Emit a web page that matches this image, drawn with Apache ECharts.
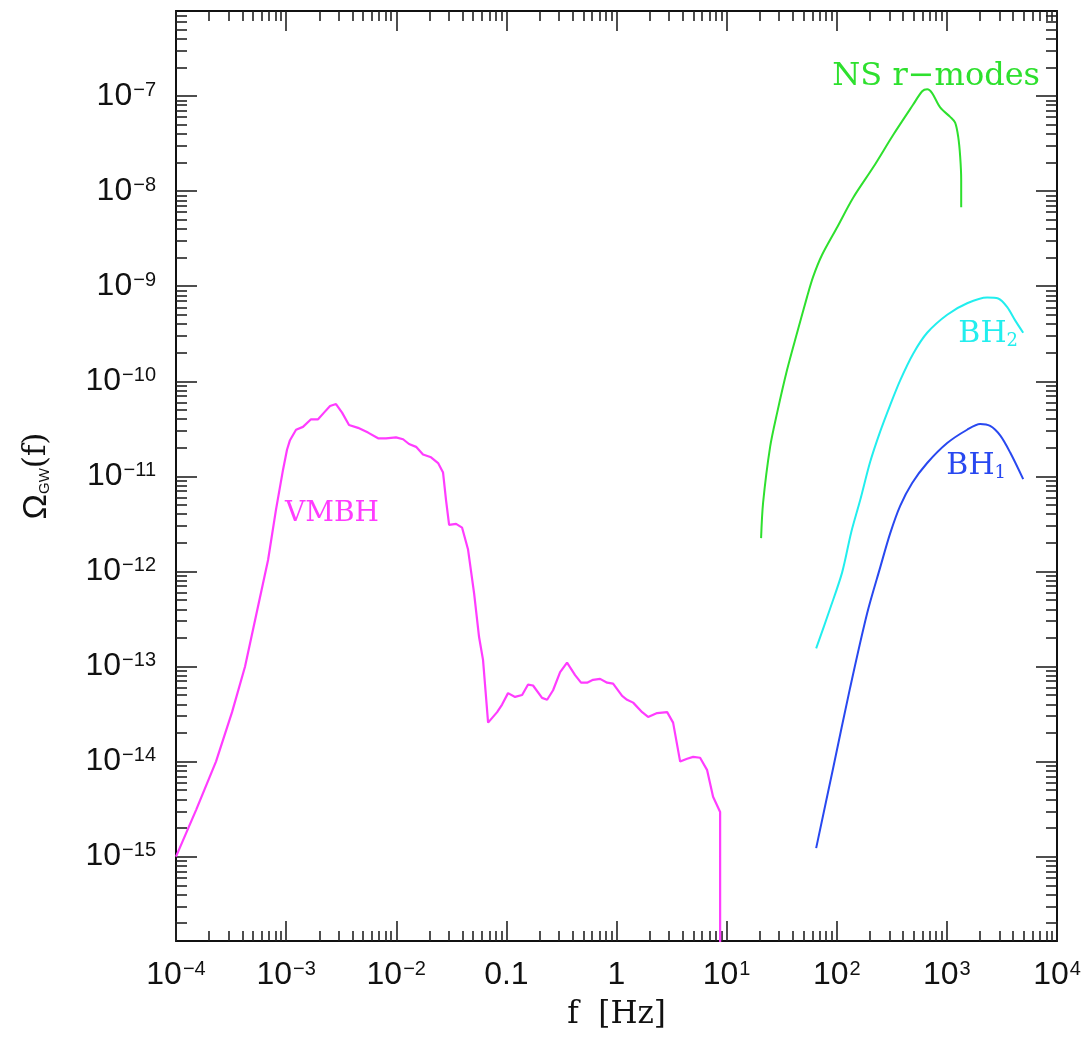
<!DOCTYPE html>
<html>
<head>
<meta charset="utf-8">
<script src="https://cdn.jsdelivr.net/npm/echarts@6/dist/echarts.min.js"></script>
<style>html,body{margin:0;padding:0;background:#fff}#c{width:1088px;height:1039px}</style>
</head>
<body>
<div id="c"></div>
<script>
// All values are log10 of the physical quantity: f in Hz, Omega_GW(f)
const vmbhLogF = [-4.000,-3.818,-3.637,-3.491,-3.373,-3.246,-3.164,-3.092,-3.028,-2.992,-2.965,-2.910,-2.847,-2.774,-2.710,-2.656,-2.601,-2.547,-2.492,-2.429,-2.347,-2.256,-2.165,-2.093,-2.002,-1.938,-1.884,-1.820,-1.757,-1.684,-1.620,-1.575,-1.548,-1.520,-1.457,-1.402,-1.348,-1.293,-1.248,-1.212,-1.166,-1.084,-1.039,-0.985,-0.921,-0.857,-0.803,-0.758,-0.676,-0.630,-0.576,-0.512,-0.449,-0.376,-0.322,-0.267,-0.213,-0.149,-0.085,-0.031,0.051,0.096,0.151,0.233,0.287,0.369,0.460,0.514,0.578,0.641,0.696,0.759,0.823,0.877,0.941,0.941];
const vmbhLogOmega = [-15.00,-14.51,-14.00,-13.48,-13.00,-12.32,-11.88,-11.35,-10.93,-10.72,-10.62,-10.51,-10.48,-10.40,-10.40,-10.33,-10.26,-10.24,-10.33,-10.46,-10.49,-10.54,-10.60,-10.60,-10.59,-10.61,-10.66,-10.69,-10.77,-10.80,-10.86,-10.96,-11.25,-11.51,-11.50,-11.54,-11.77,-12.23,-12.69,-12.93,-13.59,-13.48,-13.40,-13.28,-13.32,-13.30,-13.19,-13.20,-13.33,-13.35,-13.25,-13.06,-12.96,-13.09,-13.17,-13.17,-13.14,-13.13,-13.17,-13.18,-13.31,-13.35,-13.38,-13.48,-13.53,-13.49,-13.48,-13.59,-14.00,-13.97,-13.95,-13.96,-14.09,-14.37,-14.53,-17.00];

const nsLogF = [1.313,1.331,1.395,1.459,1.549,1.640,1.731,1.786,1.867,2.004,2.149,2.331,2.512,2.694,2.776,2.821,2.866,2.939,3.030,3.075,3.103,3.121,3.130,3.130];
const nsLogOmega = [-11.65,-11.28,-10.69,-10.33,-9.88,-9.49,-9.11,-8.90,-8.67,-8.38,-8.07,-7.75,-7.41,-7.09,-6.95,-6.93,-6.97,-7.12,-7.22,-7.28,-7.43,-7.64,-7.88,-8.17];

const bh2LogF = [1.813,1.940,2.049,2.131,2.213,2.303,2.394,2.485,2.576,2.694,2.821,3.003,3.184,3.366,3.466,3.548,3.620,3.693];
const bh2LogOmega = [-12.81,-12.39,-12.01,-11.59,-11.25,-10.85,-10.53,-10.25,-9.99,-9.71,-9.49,-9.30,-9.18,-9.12,-9.13,-9.22,-9.36,-9.49];

const bh1LogF = [1.813,1.967,2.122,2.276,2.394,2.485,2.576,2.685,2.821,3.003,3.184,3.302,3.393,3.484,3.575,3.693];
const bh1LogOmega = [-14.91,-14.07,-13.22,-12.44,-11.96,-11.60,-11.31,-11.07,-10.86,-10.65,-10.51,-10.45,-10.47,-10.57,-10.75,-11.03];

const xTickExponents = [-4,-3,-2,-1,0,1,2,3,4];
const xTickLabels = [['10','−4'],['10','−3'],['10','−2'],['0.1',''],['1',''],['10','1'],['10','2'],['10','3'],['10','4']];
const yTickExponents = [-15,-14,-13,-12,-11,-10,-9,-8,-7];
const yTickLabels = [['10','−15'],['10','−14'],['10','−13'],['10','−12'],['10','−11'],['10','−10'],['10','−9'],['10','−8'],['10','−7']];

const xMin = -4, xMax = 4;
const yMin = -15.887, yMax = -6.106;

function minorTicks(lo, hi) {
  const out = [];
  for (let n = Math.floor(lo) - 1; n <= Math.ceil(hi); n++) {
    for (let k = 2; k <= 9; k++) {
      const v = n + Math.log10(k);
      if (v > lo && v < hi) out.push(v);
    }
  }
  return out;
}
const xMinor = minorTicks(xMin, xMax);
const yMinor = minorTicks(yMin, yMax);

function zip(a, b) { return a.map((v, i) => [v, b[i]]); }

const tickRich = {
  b: {fontFamily: 'Liberation Sans', fontSize: 32, lineHeight: 32, color: '#111'},
  s: {fontFamily: 'Liberation Sans', fontSize: 20, lineHeight: 20, color: '#111', verticalAlign: 'top', padding: [0, 0, 0, 1]}
};
function fmt(exps, labels) {
  return function (v) {
    const i = exps.indexOf(Math.round(v));
    if (i < 0 || Math.abs(v - Math.round(v)) > 1e-6) return '';
    const l = labels[i];
    return l[1] ? '{b|' + l[0] + '}{s|' + l[1] + '}' : '{b|' + l[0] + '}';
  };
}

const lineAxis = {show: true, onZero: false, lineStyle: {color: '#111', width: 2}};
const noLine = {show: false, onZero: false};
function xAx(pos, major) {
  return {
    type: 'value', position: pos, min: xMin, max: xMax, gridIndex: 0,
    axisLine: major ? lineAxis : noLine,
    splitLine: {show: false},
    axisTick: {show: true, inside: true, length: major ? 20 : 10,
      customValues: major ? xTickExponents : xMinor,
      lineStyle: {color: '#222', width: 1.6}},
    axisLabel: (major && pos === 'bottom') ? {
      show: true, customValues: xTickExponents, margin: 18,
      formatter: fmt(xTickExponents, xTickLabels), rich: tickRich
    } : {show: false},
    name: (major && pos === 'bottom') ? 'f  [Hz]' : '',
    nameLocation: 'middle', nameGap: 58,
    nameTextStyle: {fontFamily: 'DejaVu Serif', fontSize: 31, color: '#111'}
  };
}
function yAx(pos, major) {
  return {
    type: 'value', position: pos, min: yMin, max: yMax, gridIndex: 0,
    axisLine: major ? lineAxis : noLine,
    splitLine: {show: false},
    axisTick: {show: true, inside: true, length: major ? 21 : 11,
      customValues: major ? yTickExponents : yMinor,
      lineStyle: {color: '#222', width: 1.6}},
    axisLabel: (major && pos === 'left') ? {
      show: true, customValues: yTickExponents, margin: 20,
      formatter: fmt(yTickExponents, yTickLabels), rich: tickRich
    } : {show: false},
    name: (major && pos === 'left') ? '{o|Ω}{g|GW}{f|(f)}' : '',
    nameLocation: 'middle', nameGap: 122,
    nameTextStyle: {
      color: '#111',
      rich: {
        o: {fontFamily: 'Liberation Sans', fontSize: 34, color: '#111'},
        g: {fontFamily: 'Liberation Sans', fontSize: 15, color: '#111', padding: [16, 0, 0, 0]},
        f: {fontFamily: 'DejaVu Serif', fontSize: 31, color: '#111'}
      }
    }
  };
}

function annot(x, y, text, color, size, rich) {
  return {
    symbol: 'circle', symbolSize: 0, silent: true, animation: false,
    label: {show: true, position: 'inside', formatter: text, color: color,
      fontFamily: 'DejaVu Serif', fontSize: size, rich: rich},
    data: [{coord: [x, y], value: 0}]
  };
}

function sub(color) {
  return {
    m: {fontFamily: 'DejaVu Serif', fontSize: 30, color: color},
    n: {fontFamily: 'DejaVu Serif', fontSize: 18, color: color, padding: [14, 0, 0, 0]}
  };
}

const colVMBH = '#ff3cff', colNS = '#2ee02e', colBH2 = '#22eeee', colBH1 = '#2848f0';

const option = {
  animation: false,
  backgroundColor: '#fff',
  grid: {left: 176, right: 31, top: 11, bottom: 98, containLabel: false},
  xAxis: [xAx('bottom', true), xAx('bottom', false), xAx('top', true), xAx('top', false)],
  yAxis: [yAx('left', true), yAx('left', false), yAx('right', true), yAx('right', false)],
  series: [
    {type: 'line', name: 'VMBH', data: zip(vmbhLogF, vmbhLogOmega), showSymbol: false,
      lineStyle: {color: colVMBH, width: 2.2}, itemStyle: {color: colVMBH}, clip: true,
      markPoint: annot(-2.583, -11.39, 'VMBH', colVMBH, 28)},
    {type: 'line', name: 'NS r-modes', data: zip(nsLogF, nsLogOmega), showSymbol: false, smooth: 0.3,
      lineStyle: {color: colNS, width: 2}, itemStyle: {color: colNS}, clip: true,
      markPoint: annot(2.903, -6.80, 'NS r−modes', colNS, 32)},
    {type: 'line', name: 'BH2', data: zip(bh2LogF, bh2LogOmega), showSymbol: false, smooth: 0.3,
      lineStyle: {color: colBH2, width: 2}, itemStyle: {color: colBH2}, clip: true,
      markPoint: annot(3.375, -9.51, '{m|BH}{n|2}', colBH2, 30, sub(colBH2))},
    {type: 'line', name: 'BH1', data: zip(bh1LogF, bh1LogOmega), showSymbol: false, smooth: 0.3,
      lineStyle: {color: colBH1, width: 2}, itemStyle: {color: colBH1}, clip: true,
      markPoint: annot(3.266, -10.89, '{m|BH}{n|1}', colBH1, 30, sub(colBH1))}
  ]
};

const chart = echarts.init(document.getElementById('c'), null, {renderer: 'canvas'});
chart.setOption(option);
</script>
</body>
</html>
